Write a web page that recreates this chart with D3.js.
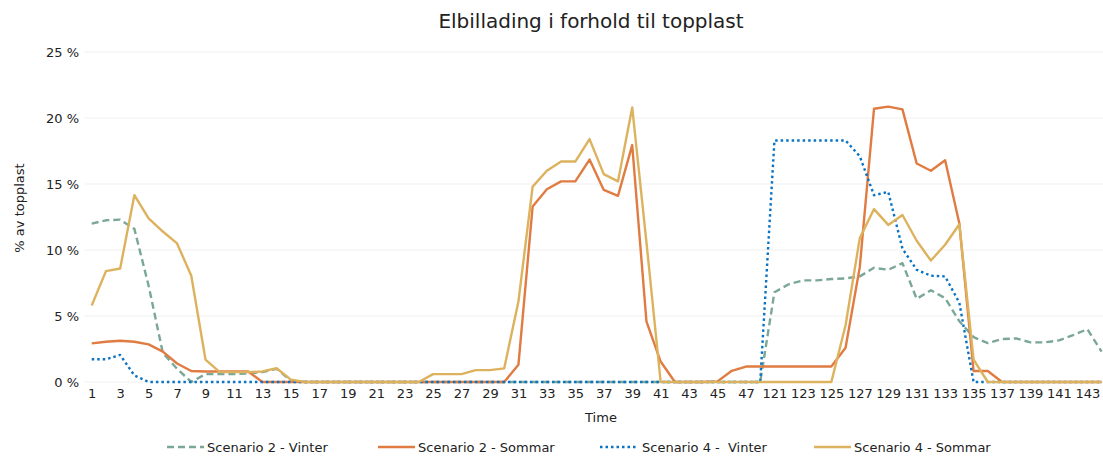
<!DOCTYPE html>
<html>
<head>
    <meta charset="utf-8">
    <title>Elbillading i forhold til topplast</title>
    <script src="https://cdnjs.cloudflare.com/ajax/libs/d3/7.8.5/d3.min.js"></script>
    <style>
        body { margin: 0; background: #fff; }
        svg, svg text { font-family: "DejaVu Sans", sans-serif; }
        .grid line { stroke: #f0f0f0; stroke-width: 1; }
        .axis text { font-size: 13px; fill: #222; }
        .line { fill: none; stroke-width: 2.4; stroke-linejoin: round; }
    </style>
</head>
<body>
<script type="text/javascript">
    var width = 1103,
        height = 456;

    // time steps: 1..48 and 121..144
    var categories = [];
    for (var t = 1; t <= 48; t++) categories.push(t);
    for (var t = 121; t <= 144; t++) categories.push(t);

    var yTicks = [0, 5, 10, 15, 20, 25];

    var s2Vinter = [
        12.0, 12.25, 12.3, 11.6, 7.3, 2.2, 1.0, 0.0, 0.6, 0.6, 0.6, 0.65,
        0.75, 1.0, 0.1, 0, 0, 0, 0, 0, 0, 0, 0, 0,
        0, 0, 0, 0, 0, 0, 0, 0, 0, 0, 0, 0,
        0, 0, 0, 0, 0, 0, 0, 0, 0, 0, 0, 0,
        6.8, 7.4, 7.7, 7.7, 7.8, 7.85, 8.0, 8.65, 8.5, 9.0, 6.3, 6.95,
        6.35, 4.6, 3.4, 2.95, 3.25, 3.3, 3.0, 3.0, 3.15, 3.55, 4.0, 2.3
    ];
    var s2Sommar = [
        2.93, 3.05, 3.13, 3.05, 2.85, 2.3, 1.4, 0.83, 0.8, 0.8, 0.8, 0.8,
        0, 0, 0, 0, 0, 0, 0, 0, 0, 0, 0, 0,
        0, 0, 0, 0, 0, 0, 1.3, 13.3, 14.6, 15.2, 15.2, 16.85,
        14.55, 14.1, 17.95, 4.6, 1.55, 0, 0, 0, 0.05, 0.85, 1.17, 1.17,
        1.17, 1.17, 1.17, 1.17, 1.17, 2.6, 8.7, 20.7, 20.86, 20.65, 16.55, 16.0,
        16.8, 12.0, 0.83, 0.83, 0, 0, 0, 0, 0, 0, 0, 0
    ];
    var s4Vinter = [
        1.72, 1.72, 2.05, 0.5, 0, 0, 0, 0, 0, 0, 0, 0,
        0, 0, 0, 0, 0, 0, 0, 0, 0, 0, 0, 0,
        0, 0, 0, 0, 0, 0, 0, 0, 0, 0, 0, 0,
        0, 0, 0, 0, 0, 0, 0, 0, 0, 0, 0, 0,
        18.3, 18.3, 18.3, 18.3, 18.3, 18.3, 17.1, 14.15, 14.4, 10.1, 8.5, 8.05,
        8.0, 6.0, 0, 0, 0, 0, 0, 0, 0, 0, 0, 0
    ];
    var s4Sommar = [
        5.8, 8.4, 8.6, 14.15, 12.4, 11.4, 10.5, 8.05, 1.7, 0.75, 0.75, 0.75,
        0.8, 1.04, 0.18, 0, 0, 0, 0, 0, 0, 0, 0, 0,
        0.6, 0.6, 0.6, 0.9, 0.9, 1.03, 6.1, 14.8, 16.0, 16.7, 16.7, 18.4,
        15.75, 15.2, 20.8, 10.6, 0, 0, 0, 0, 0, 0, 0, 0,
        0, 0, 0, 0, 0, 4.3, 10.9, 13.1, 11.9, 12.65, 10.7, 9.2,
        10.4, 11.95, 1.7, 0, 0, 0, 0, 0, 0, 0, 0, 0
    ];

    var series = [
        { name: "Scenario 2 - Vinter", values: s2Vinter, color: "#7ba797", dash: "7,4" },
        { name: "Scenario 2 - Sommar", values: s2Sommar, color: "#e07b42", dash: null },
        { name: "Scenario 4 -  Vinter", values: s4Vinter, color: "#0a73c4", dash: "2.5,3" },
        { name: "Scenario 4 - Sommar", values: s4Sommar, color: "#ddb25e", dash: null }
    ];

    var svg = d3.select("body").append("svg")
        .attr("width", width)
        .attr("height", height);

    var xScale = d3.scalePoint()
            .domain(categories)
            .range([84.6, 1108.7])
            .padding(0.5),
        yScale = d3.scaleLinear()
            .domain([0, 25])
            .range([382, 52]);

    // grid lines
    svg.append("g")
        .attr("class", "grid")
        .selectAll("line")
        .data(yTicks)
        .enter().append("line")
            .attr("x1", 84.6)
            .attr("x2", width)
            .attr("y1", function (d) { return yScale(d); })
            .attr("y2", function (d) { return yScale(d); });

    // y axis
    var yAxis = d3.axisLeft(yScale)
        .tickValues(yTicks)
        .tickSize(0)
        .tickPadding(0)
        .tickFormat(function (d) { return d + " %"; });

    svg.append("g")
        .attr("class", "axis")
        .attr("transform", "translate(79,0)")
        .call(yAxis)
        .attr("font-family", null)
        .attr("font-size", null)
        .call(function (g) { g.select(".domain").remove(); });

    // x axis, every other label
    var xAxis = d3.axisBottom(xScale)
        .tickValues(categories.filter(function (d, i) { return i % 2 === 0; }))
        .tickSize(0)
        .tickPadding(0);

    svg.append("g")
        .attr("class", "axis")
        .attr("transform", "translate(0,389)")
        .call(xAxis)
        .attr("font-family", null)
        .attr("font-size", null)
        .call(function (g) { g.select(".domain").remove(); })
        .selectAll("text").attr("dy", "0.71em");

    // lines
    var line = d3.line()
        .x(function (d, i) { return xScale(categories[i]); })
        .y(function (d) { return yScale(d); });

    svg.append("g")
        .selectAll("path")
        .data(series)
        .enter().append("path")
            .attr("class", "line")
            .attr("stroke", function (d) { return d.color; })
            .attr("stroke-dasharray", function (d) { return d.dash; })
            .attr("d", function (d) { return line(d.values); });

    // titles
    svg.append("text")
        .attr("x", 591)
        .attr("y", 28)
        .attr("text-anchor", "middle")
        .attr("font-size", "20px")
        .attr("fill", "#222")
        .text("Elbillading i forhold til topplast");

    svg.append("text")
        .attr("x", 601)
        .attr("y", 422)
        .attr("text-anchor", "middle")
        .attr("font-size", "13px")
        .attr("fill", "#222")
        .text("Time");

    svg.append("text")
        .attr("transform", "translate(24,208) rotate(-90)")
        .attr("text-anchor", "middle")
        .attr("font-size", "13px")
        .attr("fill", "#222")
        .text("% av topplast");

    // legend
    var legendX = [167, 378, 600, 814];
    var legend = svg.append("g")
        .selectAll("g")
        .data(series)
        .enter().append("g")
            .attr("transform", function (d, i) { return "translate(" + legendX[i] + ",447)"; });

    legend.append("line")
        .attr("x1", 0)
        .attr("x2", 37)
        .attr("stroke", function (d) { return d.color; })
        .attr("stroke-width", 2.4)
        .attr("stroke-dasharray", function (d) { return d.dash; });

    legend.append("text")
        .attr("x", function (d, i) { return i === 2 ? 42 : 40; })
        .attr("dy", "0.35em")
        .attr("font-size", "13px")
        .attr("fill", "#222")
        .style("white-space", "pre")
        .text(function (d) { return d.name; });
</script>
</body>
</html>
